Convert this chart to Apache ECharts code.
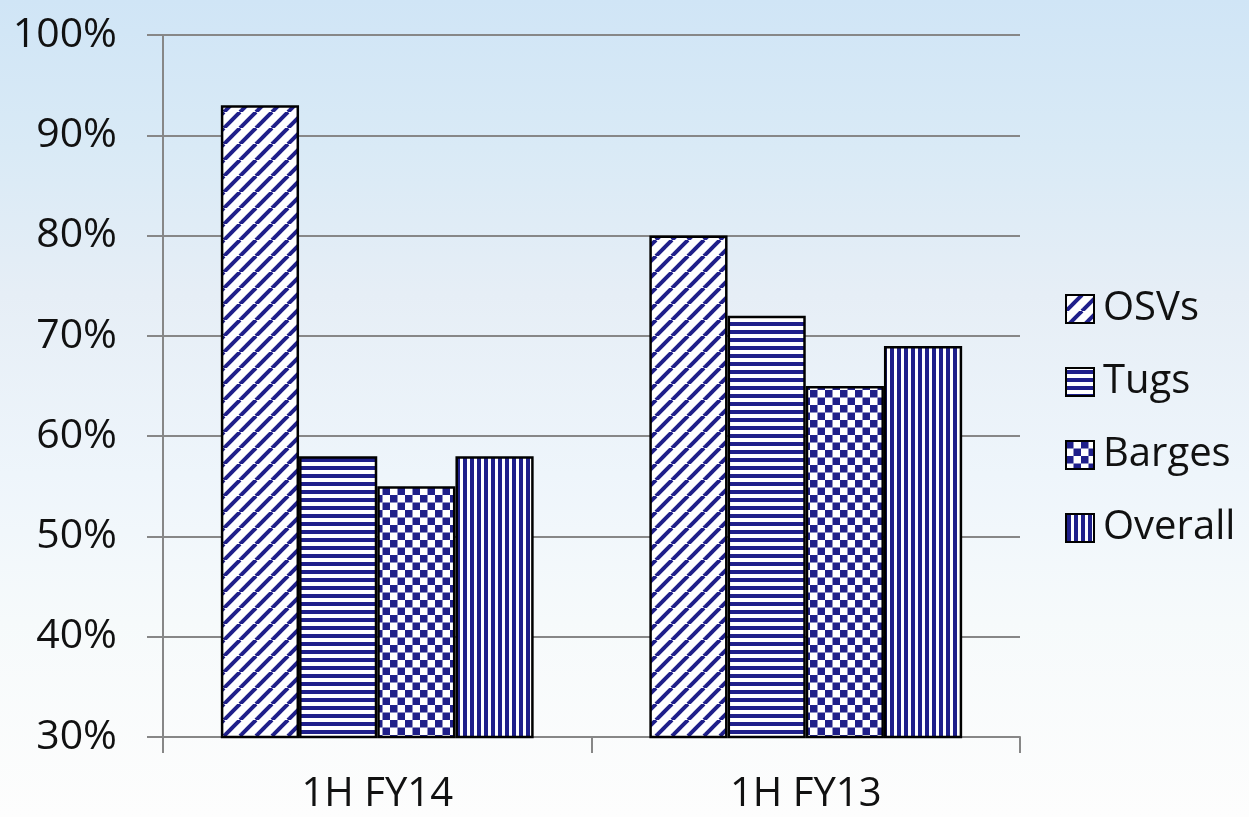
<!DOCTYPE html>
<html>
<head>
<meta charset="utf-8">
<script src="https://cdn.jsdelivr.net/npm/echarts@6/dist/echarts.min.js"></script>
<style>
  html, body { margin: 0; padding: 0; }
  body {
    width: 1249px; height: 817px; overflow: hidden;
    background: linear-gradient(to bottom, #d0e5f6 0%, #d9eaf6 18%, #e6eef6 36%, #eef5fb 58%, #f6fafb 76%, #fdfdfd 100%);
  }
  #chart { width: 1249px; height: 817px; }
</style>
</head>
<body>
<div id="chart"></div>
<script>
  // values
  var categories = ['1H FY14', '1H FY13'];
  var seriesNames = ['OSVs', 'Tugs', 'Barges', 'Overall'];
  var osvs = [93, 80];
  var tugs = [58, 72];
  var barges = [55, 65];
  var overall = [58, 69];
  var yTicks = [30, 40, 50, 60, 70, 80, 90, 100];

  var navy = '#1f1f8a';

  function tile(w, h, draw) {
    var c = document.createElement('canvas');
    c.width = w; c.height = h;
    var ctx = c.getContext('2d');
    ctx.fillStyle = '#ffffff';
    ctx.fillRect(0, 0, w, h);
    ctx.fillStyle = navy;
    ctx.strokeStyle = navy;
    draw(ctx, w, h);
    return { image: c, repeat: 'repeat' };
  }

  var diag = tile(16, 16, function (ctx, s) {
    ctx.lineWidth = 4;
    for (var k = -1; k <= 1; k++) {
      ctx.beginPath();
      ctx.moveTo(k * s, s);
      ctx.lineTo(k * s + s, 0);
      ctx.stroke();
    }
  });
  var horiz = tile(8, 8, function (ctx) {
    ctx.fillRect(0, 2, 8, 4);
  });
  var checker = tile(15, 15, function (ctx) {
    ctx.fillRect(0, 0, 7.5, 7.5);
    ctx.fillRect(7.5, 7.5, 7.5, 7.5);
  });
  var vert = tile(7, 7, function (ctx) {
    ctx.fillRect(1, 0, 4, 7);
  });

  var patterns = [diag, horiz, checker, vert];
  var values = [osvs, tugs, barges, overall];

  var series = [];
  for (var i = 0; i < seriesNames.length; i++) {
    series.push({
      name: seriesNames[i],
      type: 'bar',
      data: values[i],
      barGap: '0%',
      barCategoryGap: '27%',
      itemStyle: {
        color: patterns[i],
        borderColor: '#000',
        borderWidth: 2.5
      }
    });
  }

  var chart = echarts.init(document.getElementById('chart'));
  chart.setOption({
    backgroundColor: 'transparent',
    animation: false,
    textStyle: { fontFamily: 'Open Sans', color: '#111' },
    grid: { left: 163, right: 229, top: 35, bottom: 80 },
    legend: {
      orient: 'vertical',
      left: 1060,
      top: 283,
      itemWidth: 28,
      itemHeight: 28,
      itemGap: 31,
      icon: 'rect',
      data: seriesNames,
      textStyle: { fontSize: 40, color: '#111', fontFamily: 'Open Sans', lineHeight: 42, padding: [0, 0, 0, 4] }
    },
    xAxis: {
      type: 'category',
      data: categories,
      axisLine: { lineStyle: { color: '#878787', width: 2 } },
      axisTick: { show: true, length: 16, lineStyle: { color: '#878787', width: 2 } },
      axisLabel: { fontSize: 40, color: '#111', margin: 38, fontFamily: 'Open Sans' },
      splitLine: { show: false }
    },
    yAxis: {
      type: 'value',
      min: yTicks[0],
      max: yTicks[yTicks.length - 1],
      interval: 10,
      axisLine: { show: true, lineStyle: { color: '#878787', width: 2 } },
      axisTick: { show: true, length: 16, lineStyle: { color: '#878787', width: 2 } },
      axisLabel: { fontSize: 41, color: '#111', margin: 46, formatter: '{value}%', fontFamily: 'Open Sans' },
      splitLine: { lineStyle: { color: '#878787', width: 2 } }
    },
    series: series
  });
</script>
</body>
</html>
